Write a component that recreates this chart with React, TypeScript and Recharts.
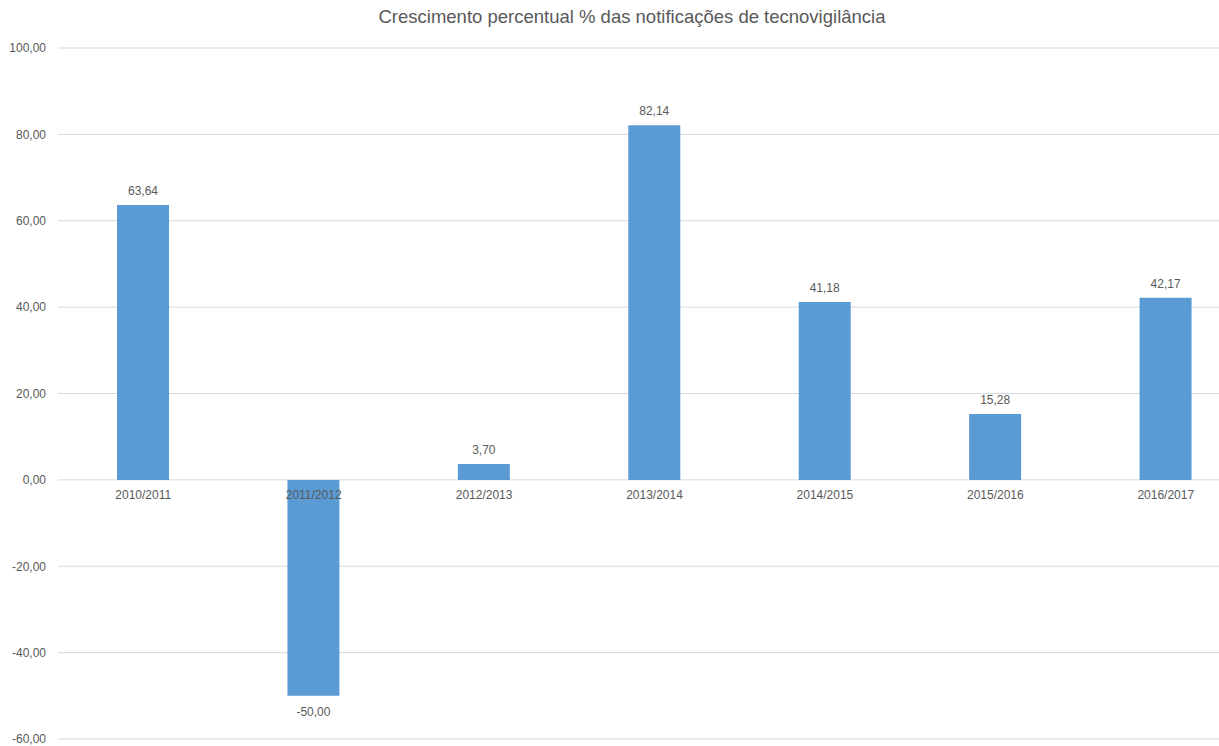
import { ComposedChart, Bar, Line, XAxis, YAxis, CartesianGrid, LabelList } from 'recharts';

const periods = ['2010/2011', '2011/2012', '2012/2013', '2013/2014', '2014/2015', '2015/2016', '2016/2017'];
const growth = [63.64, -50.0, 3.7, 82.14, 41.18, 15.28, 42.17];
const yTicks = [-60, -40, -20, 0, 20, 40, 60, 80, 100];

const data = periods.map((name, i) => ({ name, growth: growth[i] }));

const FONT = '"Liberation Sans", Arial, sans-serif';
const TEXT = '#595959';

const fmt = (v: number) => v.toFixed(2).replace('.', ',');

// value label above positive bars, below negative ones
const ValueLabel = ({ x, y, width, height, value }: any) => {
  const top = Math.min(y, y + height);
  const bottom = Math.max(y, y + height);
  const neg = value < 0;
  return (
    <text
      x={x + width / 2}
      y={neg ? bottom + 20 : top - 10}
      textAnchor="middle"
      fontSize={12}
      fontFamily={FONT}
      fill={TEXT}
    >
      {fmt(value)}
    </text>
  );
};

export default function App() {
  return (
    <div style={{ position: 'absolute', top: 0, left: 0, width: 1219, height: 746, overflow: 'hidden', background: '#fff' }}>
      <div
        style={{
          position: 'absolute', top: 6, left: 0, width: 1264, textAlign: 'center',
          fontFamily: FONT, fontSize: 18.5, color: TEXT,
        }}
      >
        Crescimento percentual % das notificações de tecnovigilância
      </div>
      <ComposedChart
        width={1264}
        height={746}
        data={data}
        margin={{ top: 48, right: 13, bottom: 7, left: 0 }}
      >
        <CartesianGrid vertical={false} stroke="#d9d9d9" />
        <XAxis dataKey="name" hide />
        <YAxis
          domain={[-60, 100]}
          ticks={yTicks}
          interval={0}
          width={58}
          axisLine={false}
          tickLine={false}
          tickMargin={6}
          tickFormatter={fmt}
          tick={{ fontSize: 12, fontFamily: FONT, fill: TEXT }}
        />
        <Bar dataKey="growth" fill="#5b9bd5" barSize={52} isAnimationActive={false}>
          <LabelList dataKey="growth" content={<ValueLabel />} />
        </Bar>
        {/* invisible series on the zero line, carries the category labels */}
        <Line
          dataKey={() => 0}
          stroke="none"
          dot={false}
          activeDot={false}
          legendType="none"
          isAnimationActive={false}
        >
          <LabelList dataKey="name" position="bottom" offset={11} fontSize={12} fontFamily={FONT} fill={TEXT} />
        </Line>
      </ComposedChart>
    </div>
  );
}
